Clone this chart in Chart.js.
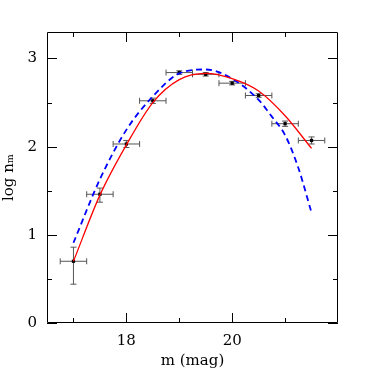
<!DOCTYPE html>
<html><head><meta charset="utf-8">
<script src="https://cdn.jsdelivr.net/npm/chart.js@4.4.1/dist/chart.umd.min.js"></script>
<style>html,body{margin:0;padding:0;background:#fff}#wrap{width:382px;height:382px}</style>
</head><body><div id="wrap"><canvas id="c" width="382" height="382"></canvas></div>
<script>
// Observed points
const magBins = [17.0, 17.5, 18.0, 18.5, 19.0, 19.5, 20.0, 20.5, 21.0, 21.5];
const logN    = [0.70, 1.46, 2.03, 2.52, 2.84, 2.82, 2.72, 2.58, 2.26, 2.07];
const errUp   = [0.16, 0.07, 0.04, 0.03, 0.02, 0.02, 0.02, 0.02, 0.03, 0.04];
const errDown = [0.26, 0.09, 0.04, 0.03, 0.02, 0.02, 0.02, 0.02, 0.03, 0.04];
const magHalfWidth = [0.25, 0.25, 0.25, 0.25, 0.25, 0.25, 0.25, 0.25, 0.25, 0.25];
// Red solid fit curve
const redX = [17.0, 17.5, 18.0, 18.5, 19.0, 19.5, 20.0, 20.5, 21.0, 21.5];
const redY = [0.70, 1.45, 2.02, 2.50, 2.76, 2.83, 2.77, 2.63, 2.35, 1.98];
// Blue dashed fit curve
const blueX = [17.0, 17.5, 18.0, 18.5, 19.0, 19.5, 20.0, 20.5, 20.75, 21.0, 21.25, 21.5];
const blueY = [0.91, 1.63, 2.19, 2.57, 2.83, 2.875, 2.77, 2.53, 2.34, 2.13, 1.76, 1.25];
// Axis ticks
const xMajor = [18, 20];
const xMinor = [17, 19, 21];
const yMajor = [0, 1, 2, 3];
const yMinor = [0.5, 1.5, 2.5];

const pts = (xs, ys) => xs.map((x, i) => ({x: x, y: ys[i]}));
const FONT = {family: "'DejaVu Serif', serif", size: 15};

const frame = {
  id: 'frame',
  beforeDatasetsDraw(chart) {
    const {ctx, chartArea: a, scales: {x, y}} = chart;
    ctx.save();
    // error bars
    ctx.strokeStyle = '#555';
    ctx.lineWidth = 1;
    magBins.forEach((m, i) => {
      const px = x.getPixelForValue(m), py = y.getPixelForValue(logN[i]);
      const x0 = x.getPixelForValue(m - magHalfWidth[i]), x1 = x.getPixelForValue(m + magHalfWidth[i]);
      const y0 = y.getPixelForValue(logN[i] + errUp[i]), y1 = y.getPixelForValue(logN[i] - errDown[i]);
      ctx.beginPath();
      ctx.moveTo(x0, py); ctx.lineTo(x1, py);
      ctx.moveTo(x0, py - 3); ctx.lineTo(x0, py + 3);
      ctx.moveTo(x1, py - 3); ctx.lineTo(x1, py + 3);
      ctx.moveTo(px, y0); ctx.lineTo(px, y1);
      ctx.moveTo(px - 3, y0); ctx.lineTo(px + 3, y0);
      ctx.moveTo(px - 3, y1); ctx.lineTo(px + 3, y1);
      ctx.stroke();
    });
    ctx.restore();
  },
  afterDatasetsDraw(chart) {
    const {ctx, chartArea: a, scales: {x, y}} = chart;
    ctx.save();
    ctx.strokeStyle = '#000';
    ctx.lineWidth = 1;
    ctx.beginPath();
    ctx.rect(a.left + 0.5, a.top + 0.5, a.right - a.left - 1, a.bottom - a.top - 1);
    const tx = (v, len) => {
      const p = Math.round(x.getPixelForValue(v)) + 0.5;
      ctx.moveTo(p, a.bottom); ctx.lineTo(p, a.bottom - len);
      ctx.moveTo(p, a.top); ctx.lineTo(p, a.top + len);
    };
    const ty = (v, len) => {
      const p = Math.round(y.getPixelForValue(v)) + 0.5;
      ctx.moveTo(a.left, p); ctx.lineTo(a.left + len, p);
      ctx.moveTo(a.right, p); ctx.lineTo(a.right - len, p);
    };
    xMajor.forEach(v => tx(v, 10)); xMinor.forEach(v => tx(v, 5));
    yMajor.forEach(v => ty(v, 10)); yMinor.forEach(v => ty(v, 5));
    ctx.stroke();
    ctx.restore();
  }
};

new Chart(document.getElementById('c'), {
  type: 'line',
  data: {
    datasets: [
      {data: pts(redX, redY), borderColor: '#ff0000', borderWidth: 1.3, pointRadius: 0, tension: 0.4, cubicInterpolationMode: 'monotone', fill: false},
      {data: pts(blueX, blueY), borderColor: '#0000ff', borderWidth: 1.8, borderDash: [6, 4], pointRadius: 0, cubicInterpolationMode: 'monotone', fill: false},
      {data: pts(magBins, logN), showLine: false, pointStyle: 'rect', pointRadius: 2.3, pointBackgroundColor: '#000', pointBorderColor: '#000', pointBorderWidth: 0}
    ]
  },
  options: {
    responsive: false,
    animation: false,
    events: [],
    layout: {padding: {top: 32, right: 44, left: 0, bottom: 0}},
    plugins: {legend: {display: false}, tooltip: {enabled: false}},
    scales: {
      x: {
        type: 'linear', min: 16.5, max: 22,
        afterBuildTicks: s => { s.ticks = xMajor.map(v => ({value: v})); },
        afterFit: s => { s.height = 59; },
        grid: {display: false, drawTicks: false},
        border: {display: false},
        ticks: {color: '#000', font: FONT, padding: 9, maxRotation: 0},
        title: {display: true, text: 'm (mag)', color: '#000', font: FONT, padding: {top: 0, bottom: 12}}
      },
      y: {
        type: 'linear', min: 0, max: 3.3,
        afterBuildTicks: s => { s.ticks = yMajor.map(v => ({value: v})); },
        afterFit: s => { s.width = 47; },
        grid: {display: false, drawTicks: false},
        border: {display: false},
        ticks: {color: '#000', font: FONT, padding: 10},
        title: {display: true, text: 'log nₘ', color: '#000', font: FONT, padding: {top: 0, bottom: 0}}
      }
    }
  },
  plugins: [frame]
});
</script></body></html>
